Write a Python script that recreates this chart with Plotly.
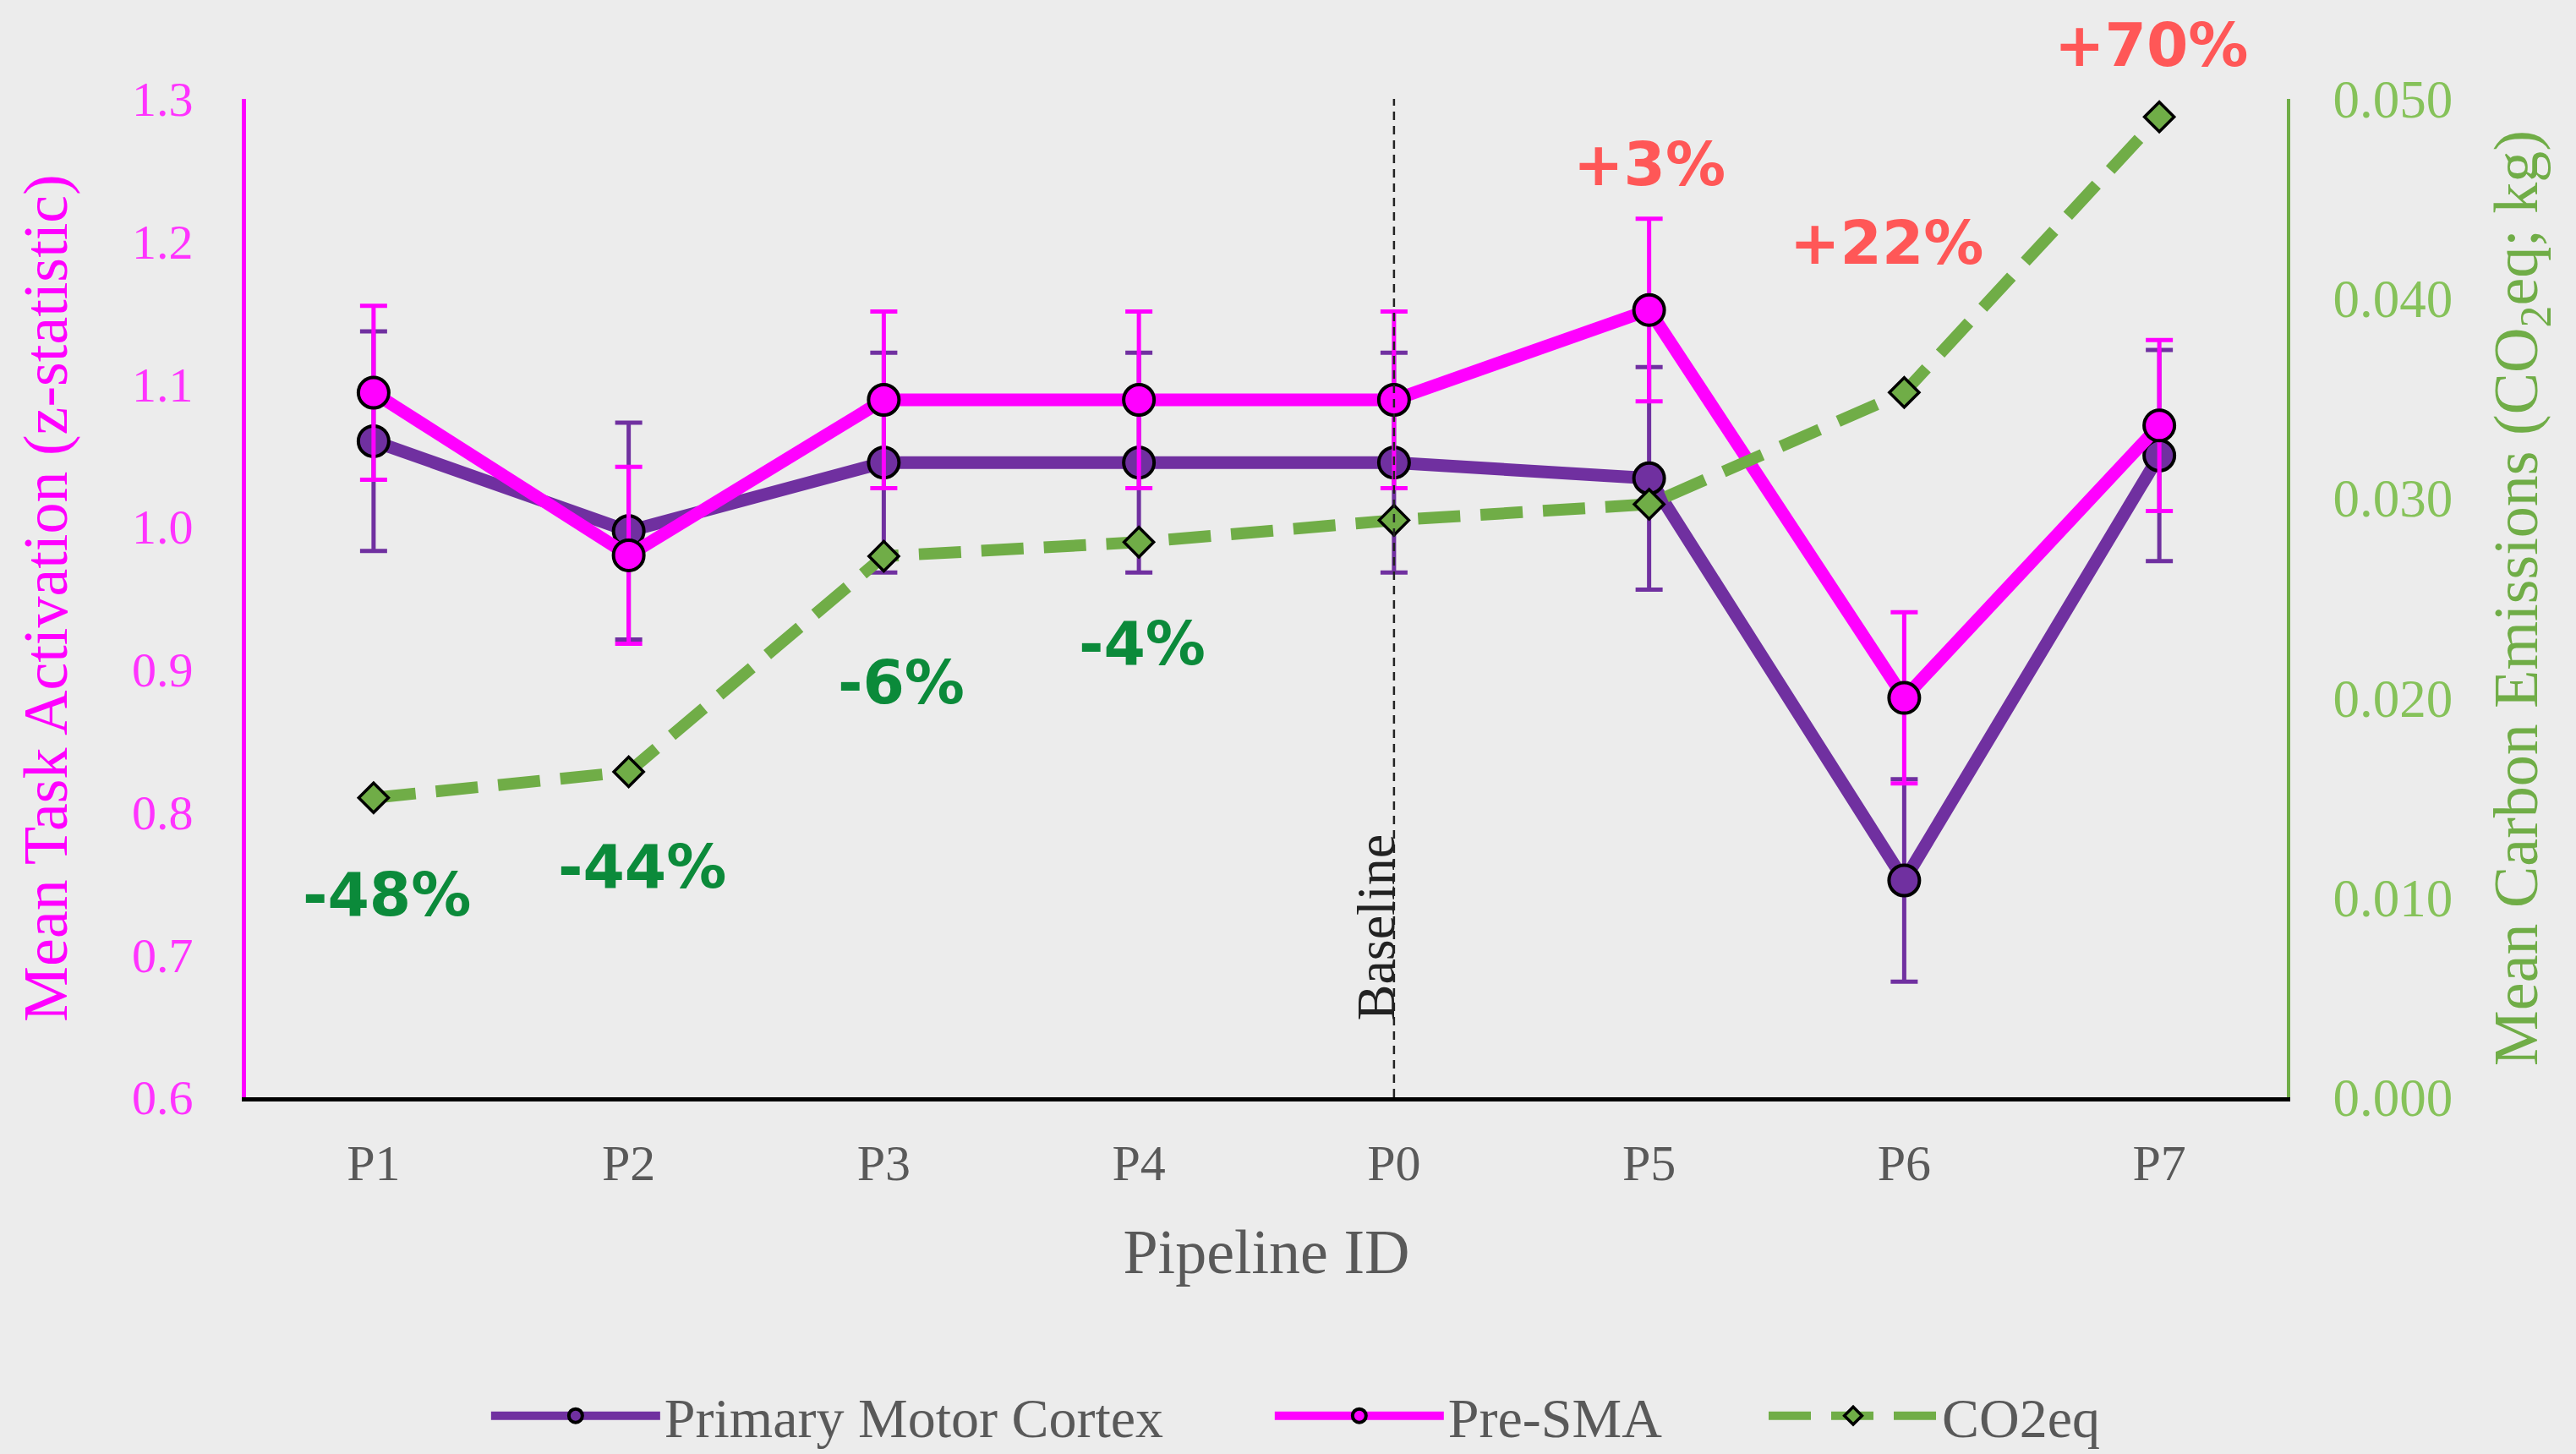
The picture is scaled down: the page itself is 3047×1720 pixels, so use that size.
import plotly.graph_objects as go

# ---- data ----
pipelines = ["P1", "P2", "P3", "P4", "P0", "P5", "P6", "P7"]
baseline_id = "P0"

m1_mean = [1.060, 0.997, 1.045, 1.045, 1.045, 1.034, 0.752, 1.050]
m1_err = [0.077, 0.076, 0.077, 0.077, 0.077, 0.078, 0.071, 0.074]

presma_mean = [1.094, 0.980, 1.089, 1.089, 1.089, 1.152, 0.880, 1.071]
presma_err = [0.061, 0.062, 0.062, 0.062, 0.062, 0.064, 0.060, 0.060]

co2_kg = [0.0150, 0.0163, 0.0271, 0.0278, 0.0289, 0.0297, 0.0353, 0.0491]

left_ticks = [0.6, 0.7, 0.8, 0.9, 1.0, 1.1, 1.2, 1.3]
right_ticks = [0.000, 0.010, 0.020, 0.030, 0.040, 0.050]

# ---- style ----
PURPLE = "#7030A0"
MAGENTA = "#FF00FF"
GREEN = "#70AD47"
SERIF = "Liberation Serif, Times New Roman, serif"
GREY_TXT = "#595959"

# label placement (pixel shifts from each CO2 marker)
label_shift = [(16, -115), (16, -113), (21, -150), (4, -120),
               None, (0, 402), (-21, 177), (-10, 85)]

x_idx = list(range(len(pipelines)))
base_i = pipelines.index(baseline_id)

fig = go.Figure()

fig.add_trace(go.Scatter(
    x=x_idx, y=m1_mean, name="Primary Motor Cortex", mode="lines+markers", legend="legend",
    line=dict(color=PURPLE, width=15),
    marker=dict(symbol="circle", size=36, color=PURPLE, line=dict(color="black", width=4)),
    error_y=dict(type="data", array=m1_err, visible=True, color=PURPLE, thickness=5, width=16),
))

fig.add_trace(go.Scatter(
    x=x_idx, y=presma_mean, name="Pre-SMA", mode="lines+markers", legend="legend2",
    line=dict(color=MAGENTA, width=15),
    marker=dict(symbol="circle", size=36, color=MAGENTA, line=dict(color="black", width=4)),
    error_y=dict(type="data", array=presma_err, visible=True, color=MAGENTA, thickness=5, width=16),
))

fig.add_trace(go.Scatter(
    x=x_idx, y=co2_kg, name="CO2eq", mode="lines+markers", yaxis="y2", legend="legend3",
    line=dict(color=GREEN, width=14, dash="50px,24px"),
    marker=dict(symbol="diamond", size=27, color=GREEN, line=dict(color="black", width=3.5)),
))

# percentage change labels relative to baseline emissions
base_co2 = co2_kg[base_i]
for i, v in enumerate(co2_kg):
    if i == base_i:
        continue
    pct = round((v / base_co2 - 1) * 100)
    txt = f"{pct:+d}%"
    col = "#0B8A3A" if pct < 0 else "#FF5757"
    dx, dy = label_shift[i]
    fig.add_annotation(
        x=i, y=v, xref="x", yref="y2", text=txt, showarrow=False,
        xshift=dx, yshift=dy,
        font=dict(family="DejaVu Sans, sans-serif", size=71, color=col, weight="bold"),
    )

# baseline marker
fig.add_shape(type="line", x0=base_i, x1=base_i, xref="x", y0=0, y1=1, yref="paper",
              line=dict(color="#222222", width=2.5, dash="10px,7px"))
fig.add_annotation(x=base_i, y=0.075, xref="x", yref="paper", text="Baseline",
                   textangle=-90, showarrow=False, xshift=-21,
                   font=dict(family=SERIF, size=64, color="#222222"))

legend_common = dict(orientation="h", yanchor="middle", xanchor="left", y=-0.319,
                     font=dict(family=SERIF, size=66, color=GREY_TXT),
                     itemwidth=200, bgcolor="rgba(0,0,0,0)")

fig.update_layout(
    width=3047, height=1720,
    margin=dict(l=291, r=342, t=117, b=422, autoexpand=False),
    paper_bgcolor="#ececec", plot_bgcolor="#ececec",
    showlegend=True,
    legend=dict(x=0.118, **legend_common),
    legend2=dict(x=0.502, **legend_common),
    legend3=dict(x=0.744, **legend_common),
    xaxis=dict(
        range=[-0.5, len(pipelines) - 0.5], tickmode="array", tickvals=x_idx, ticktext=pipelines,
        showgrid=False, zeroline=False, showline=True, linecolor="black", linewidth=5,
        ticks="", ticklabelstandoff=21,
        tickfont=dict(family=SERIF, size=60, color=GREY_TXT),
        title=dict(text="Pipeline ID", font=dict(family=SERIF, size=74, color=GREY_TXT), standoff=48),
    ),
    yaxis=dict(
        range=[0.6, 1.3], tickmode="array", tickvals=left_ticks,
        ticktext=[f"{t:.1f}" for t in left_ticks],
        showgrid=False, zeroline=False, showline=True, linecolor=MAGENTA, linewidth=5,
        ticks="", ticklabelstandoff=46,
        tickfont=dict(family=SERIF, size=58, color="#FF33FF"),
        title=dict(text="Mean Task Activation (z-statistic)",
                   font=dict(family=SERIF, size=74, color=MAGENTA), standoff=54),
    ),
    yaxis2=dict(
        range=[0, 0.05], overlaying="y", side="right", tickmode="array", tickvals=right_ticks,
        ticktext=[f"{t:.3f}" for t in right_ticks],
        showgrid=False, zeroline=False, showline=True, linecolor=GREEN, linewidth=4,
        ticks="", ticklabelstandoff=38,
        tickfont=dict(family=SERIF, size=63, color="#86C25A"),
        title=dict(text="Mean Carbon Emissions (CO<sub>2</sub>eq; kg)",
                   font=dict(family=SERIF, size=74, color=GREEN), standoff=50),
    ),
)

fig.write_html("out.html")
